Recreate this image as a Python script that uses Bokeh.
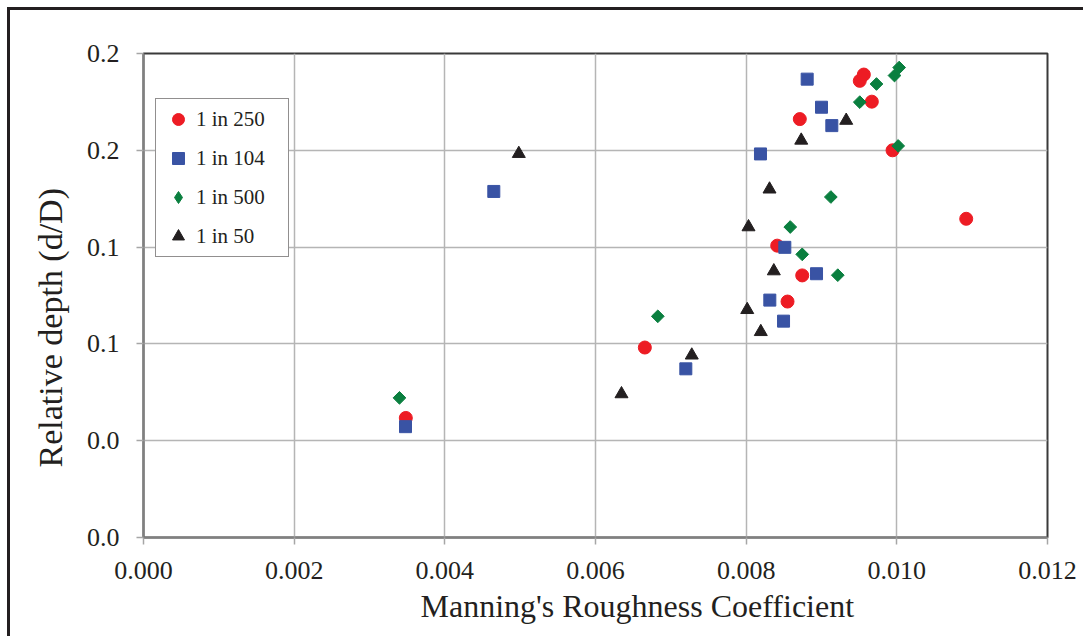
import math
from bokeh.plotting import figure
from bokeh.models import (Range1d, FixedTicker, PrintfTickFormatter, Legend,
                          LegendItem, Title)
from bokeh.embed import file_html
from bokeh.resources import INLINE

# Manning's n versus relative depth for four bed slopes
n_250 = [0.003482, 0.006655, 0.008549, 0.008744, 0.008412, 0.010921,
         0.009943, 0.008712, 0.009668, 0.009508, 0.009562]
d_250 = [0.0494, 0.0785, 0.0975, 0.1083, 0.1206, 0.1317,
         0.1600, 0.1729, 0.1801, 0.1887, 0.1913]

n_104 = [0.003478, 0.007199, 0.008496, 0.008314, 0.008934, 0.008513,
         0.008190, 0.004650, 0.009137, 0.009000, 0.008810]
d_104 = [0.0458, 0.0697, 0.0894, 0.0981, 0.1090, 0.1199,
         0.1585, 0.1430, 0.1702, 0.1778, 0.1894]

n_500 = [0.003398, 0.006827, 0.009216, 0.008744, 0.008585, 0.009124,
         0.010018, 0.009508, 0.009730, 0.009969, 0.010031]
d_500 = [0.0577, 0.0914, 0.1084, 0.1170, 0.1283, 0.1407,
         0.1618, 0.1799, 0.1874, 0.1909, 0.1942]

n_50 = [0.006345, 0.007278, 0.008194, 0.008014, 0.008367, 0.008031,
        0.008310, 0.008731, 0.009328, 0.004982]
d_50 = [0.0593, 0.0753, 0.0850, 0.0941, 0.1101, 0.1283,
        0.1439, 0.1641, 0.1723, 0.1586]

x_ticks = [0.0, 0.002, 0.004, 0.006, 0.008, 0.010, 0.012]
y_ticks = [0.0, 0.04, 0.08, 0.12, 0.16, 0.20]

FONT = "Liberation Serif"
INK = "#231f20"
RED, BLUE, GREEN = "#ed1c24", "#3953a4", "#0a7f3f"

p = figure(width=1076, height=629, output_backend="svg", toolbar_location=None,
           x_range=Range1d(0, 0.012), y_range=Range1d(0, 0.2),
           min_border_left=133, min_border_right=39,
           min_border_top=43, min_border_bottom=102)
p.styles = {"margin-left": "7px", "margin-top": "7px",
            "border-left": f"3px solid {INK}", "border-top": f"3px solid {INK}"}

p.background_fill_color = "white"
p.border_fill_color = "white"
p.outline_line_color = "#3a3a3a"
p.outline_line_width = 2

for ax, ticks, fmt in ((p.xaxis[0], x_ticks, "%.3f"), (p.yaxis[0], y_ticks, "%.1f")):
    ax.ticker = FixedTicker(ticks=ticks)
    ax.formatter = PrintfTickFormatter(format=fmt)
    ax.axis_line_color = "#808080"
    ax.axis_line_width = 2
    ax.major_tick_line_color = "#a6a6a6"
    ax.major_tick_line_width = 1.5
    ax.major_tick_out = 7
    ax.major_tick_in = 0
    ax.minor_tick_line_color = None
    ax.major_label_text_font = FONT
    ax.major_label_text_font_size = "26px"
    ax.major_label_text_color = INK

p.xaxis.major_label_standoff = 17
p.yaxis.major_label_standoff = 17

# axis titles, each nudged off the centre of the plot area
p.add_layout(Title(text="Manning's Roughness Coefficient", align="left",
                   offset=277, standoff=8, text_font=FONT, text_font_size="32px",
                   text_font_style="normal", text_color=INK), "below")
p.add_layout(Title(text="Relative depth (d/D)", align="left", offset=70,
                   standoff=30, text_font=FONT, text_font_size="34px",
                   text_font_style="normal", text_color=INK), "left")

for g in (p.xgrid[0], p.ygrid[0]):
    g.grid_line_color = "#b5b5b5"
    g.grid_line_width = 1.5

r250 = p.scatter(n_250, d_250, marker="circle", size=13,
                 fill_color=RED, line_color=RED)
r104 = p.scatter(n_104, d_104, marker="square", size=12,
                 fill_color=BLUE, line_color=BLUE)
r500 = p.scatter(n_500, d_500, marker="square", size=9, angle=math.pi / 4,
                 fill_color=GREEN, line_color=GREEN)
r50 = p.scatter(n_50, d_50, marker="triangle", size=13,
                fill_color=INK, line_color=INK)

# legend key for the 1 in 500 series: a hidden diamond glyph
k500 = p.scatter(n_500, d_500, marker="diamond", size=12,
                 fill_color=GREEN, line_color=GREEN, visible=False)

legend = Legend(items=[LegendItem(label="1 in 250", renderers=[r250]),
                       LegendItem(label="1 in 104", renderers=[r104]),
                       LegendItem(label="1 in 500", renderers=[k500]),
                       LegendItem(label="1 in 50", renderers=[r50])],
                location=(12, 280), margin=0, padding=5, spacing=9,
                glyph_width=34, glyph_height=30, label_height=30,
                label_width=87, label_standoff=1,
                label_text_font=FONT, label_text_font_size="21px",
                label_text_color=INK, inactive_fill_alpha=0,
                border_line_color=INK, border_line_width=1,
                background_fill_color="white", background_fill_alpha=1)
p.add_layout(legend)

open("out.html", "w").write(file_html(p, INLINE))
